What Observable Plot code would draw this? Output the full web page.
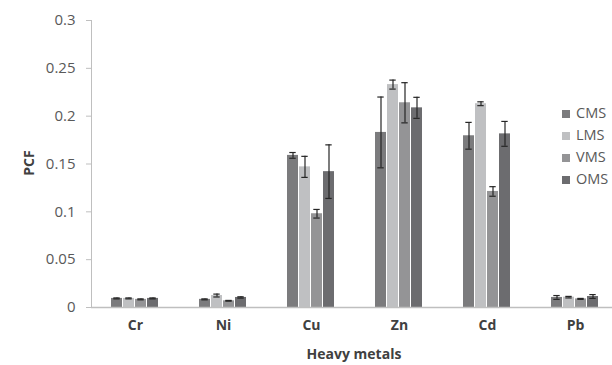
<!DOCTYPE html>
<html><head><meta charset="utf-8">
<script src="https://cdn.jsdelivr.net/npm/d3@7"></script>
<script src="https://cdn.jsdelivr.net/npm/@observablehq/plot@0.6"></script>
<style>
body{margin:0;background:#fff;font-family:"Open Sans",sans-serif;}
#wrap{position:relative;width:612px;height:365px;overflow:hidden;background:#fff}
#wrap svg{max-width:none !important;}
#wrap svg text{fill:#595959}
#wrap svg [aria-label="y-axis tick label"] text{font-size:15px}
#wrap svg [aria-label="fx-axis tick label"] text{font-weight:bold;fill:#404040}
.lab{position:absolute;font-weight:bold;font-size:14px;color:#404040;white-space:nowrap}
.leg{position:absolute;left:562px;font-size:14.5px;color:#595959;line-height:16px}
.leg span{display:inline-block;width:8px;height:8px;margin-right:6px;vertical-align:0px}
</style></head><body><div id="wrap"></div>
<script>
const metals = ["Cr","Ni","Cu","Zn","Cd","Pb"];
const series = ["CMS","LMS","VMS","OMS"];
const colors = ["#7b7b7d","#bfc0c2","#949496","#6c6c6f"];
const CMS = [0.0095,0.0085,0.159,0.183,0.1795,0.0105];
const LMS = [0.0095,0.0125,0.147,0.233,0.213,0.0108];
const VMS = [0.0085,0.007,0.098,0.214,0.1213,0.009];
const OMS = [0.0095,0.0105,0.142,0.2087,0.1815,0.0115];
const errCMS = [0.0005,0.0005,0.003,0.037,0.014,0.002];
const errLMS = [0.0005,0.0015,0.011,0.0047,0.002,0.0008];
const errVMS = [0.0005,0.0004,0.0045,0.021,0.005,0.0005];
const errOMS = [0.0005,0.0007,0.028,0.011,0.013,0.002];
const yTicks = [0,0.05,0.1,0.15,0.2,0.25,0.3];

const vals = {CMS, LMS, VMS, OMS};
const errs = {CMS: errCMS, LMS: errLMS, VMS: errVMS, OMS: errOMS};
const data = [];
metals.forEach((m,i) => series.forEach(s => {
  data.push({metal:m, series:s, value:vals[s][i], lo:vals[s][i]-errs[s][i], hi:vals[s][i]+errs[s][i]});
}));

const chart = Plot.plot({
  width: 621, height: 365,
  marginLeft: 88, marginRight: 0, marginTop: 20, marginBottom: 58,
  style: {fontFamily: "'Open Sans', sans-serif", fontSize: "14px", color: "#bfbfbf", background: "#fff"},
  fx: {domain: metals, padding: 0, axis: "bottom", tickSize: 0, tickPadding: 13, label: null},
  x: {domain: series, paddingInner: 0.06, paddingOuter: 1.53, axis: null},
  y: {domain: [0, 0.3], ticks: yTicks, tickFormat: d => String(+d.toFixed(2)), tickSize: 5, tickPadding: 11, label: null, line: true},
  color: {domain: series, range: colors},
  marks: [
    Plot.barY(data, {fx: "metal", x: "series", y: "value", fill: "series"}),
    Plot.ruleY([0], {stroke: "#bfbfbf", strokeWidth: 1.3}),
    Plot.ruleX(data, {fx: "metal", x: "series", y1: "lo", y2: "hi", stroke: "#262626", strokeWidth: 1.2}),
    Plot.tickY(data, {fx: "metal", x: "series", y: "lo", stroke: "#262626", strokeWidth: 1.2, insetLeft: 2.3, insetRight: 2.3}),
    Plot.tickY(data, {fx: "metal", x: "series", y: "hi", stroke: "#262626", strokeWidth: 1.2, insetLeft: 2.3, insetRight: 2.3})
  ]
});
const wrap = document.getElementById("wrap");
wrap.appendChild(chart);

const pcf = document.createElement("div");
pcf.className = "lab"; pcf.textContent = "PCF";
pcf.style.left = "28px"; pcf.style.top = "163px";
pcf.style.transform = "translate(-50%,-50%) rotate(-90deg)";
wrap.appendChild(pcf);

const hm = document.createElement("div");
hm.className = "lab"; hm.textContent = "Heavy metals";
hm.style.left = "354px"; hm.style.top = "353px";
hm.style.transform = "translate(-50%,-50%)";
wrap.appendChild(hm);

const legY = [113,135,157,179];
series.forEach((s,i) => {
  const d = document.createElement("div");
  d.className = "leg";
  d.style.top = (legY[i]-8) + "px";
  const sw = document.createElement("span");
  sw.style.background = colors[i];
  d.appendChild(sw);
  d.appendChild(document.createTextNode(s));
  wrap.appendChild(d);
});
</script></body></html>
